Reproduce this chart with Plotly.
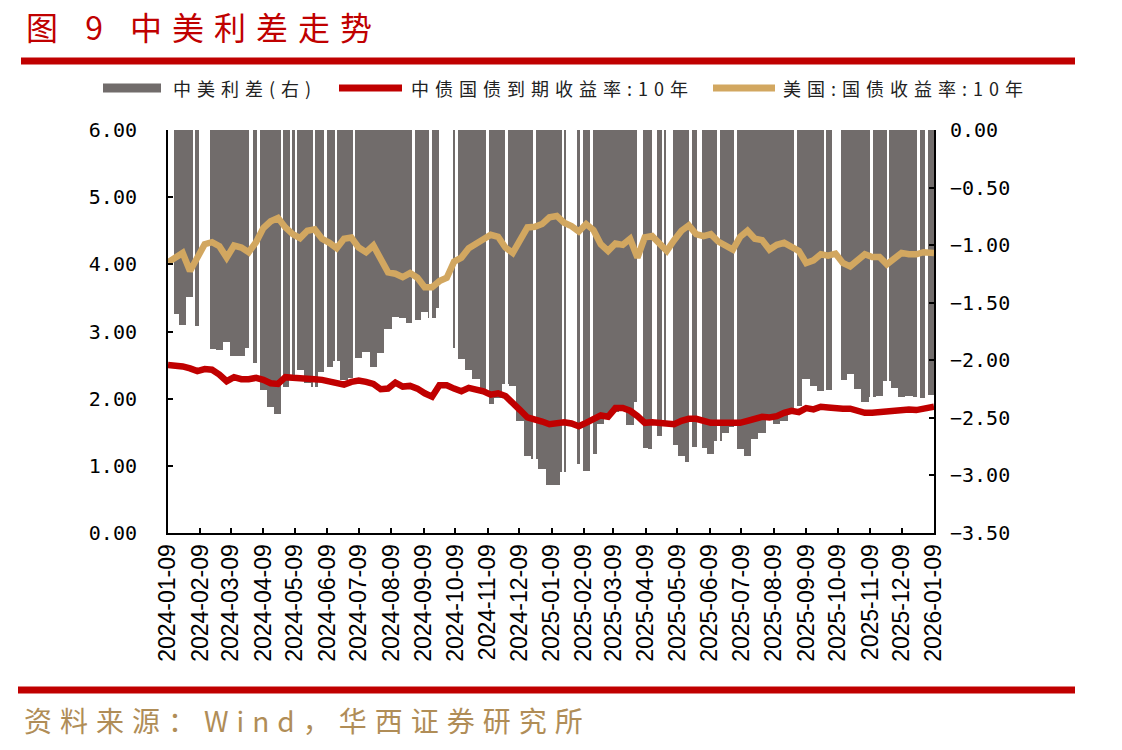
import pandas as pd
import plotly.graph_objects as go

# ---------------- data ----------------
week_dates = list(pd.date_range("2024-01-09", "2026-01-06", freq="7D")) + [pd.Timestamp("2026-01-09")]

cn_10y = [2.50, 2.50, 2.48, 2.45, 2.41, 2.44, 2.43, 2.36, 2.26, 2.32,
          2.29, 2.29, 2.31, 2.28, 2.23, 2.22, 2.32, 2.31, 2.31, 2.30,
          2.29, 2.28, 2.26, 2.23, 2.21, 2.25, 2.27, 2.25, 2.22, 2.14,
          2.15, 2.24, 2.18, 2.19, 2.15, 2.08, 2.03, 2.20, 2.20, 2.15,
          2.11, 2.16, 2.14, 2.11, 2.06, 2.08, 2.04, 1.95, 1.83, 1.72,
          1.70, 1.66, 1.62, 1.64, 1.65, 1.63, 1.59, 1.64, 1.70, 1.75,
          1.73, 1.86, 1.86, 1.82, 1.74, 1.64, 1.65, 1.64, 1.64, 1.62,
          1.67, 1.70, 1.70, 1.66, 1.64, 1.64, 1.64, 1.64, 1.64, 1.67,
          1.70, 1.73, 1.72, 1.74, 1.79, 1.82, 1.80, 1.86, 1.84, 1.88,
          1.87, 1.85, 1.85, 1.85, 1.81, 1.79, 1.79, 1.80, 1.82, 1.84,
          1.85, 1.84, 1.83, 1.85, 1.86, 1.88]

us_10y = [4.03, 4.10, 4.17, 3.90, 4.11, 4.30, 4.33, 4.27, 4.10, 4.28,
          4.25, 4.18, 4.33, 4.54, 4.64, 4.69, 4.55, 4.45, 4.39, 4.50,
          4.52, 4.38, 4.32, 4.24, 4.38, 4.40, 4.25, 4.18, 4.28, 4.08,
          3.88, 3.86, 3.81, 3.87, 3.80, 3.66, 3.66, 3.75, 3.80, 4.04,
          4.10, 4.24, 4.30, 4.37, 4.44, 4.41, 4.25, 4.17, 4.36, 4.55,
          4.56, 4.60, 4.70, 4.72, 4.62, 4.57, 4.49, 4.60, 4.51, 4.30,
          4.20, 4.31, 4.29, 4.38, 4.10, 4.40, 4.42, 4.30, 4.20, 4.36,
          4.50, 4.58, 4.45, 4.42, 4.45, 4.34, 4.27, 4.22, 4.41, 4.50,
          4.38, 4.36, 4.22, 4.29, 4.32, 4.26, 4.20, 4.02, 4.06, 4.15,
          4.13, 4.16, 4.02, 3.97, 4.06, 4.15, 4.11, 4.11, 4.00, 4.08,
          4.17, 4.15, 4.15, 4.18, 4.16, 4.17]

# days with no spread value (blank columns in the bar series)
gap_start = ["2024-01-08", "2024-02-02", "2024-02-08", "2024-03-26", "2024-04-03",
             "2024-04-26", "2024-05-04", "2024-05-09", "2024-05-26", "2024-06-06",
             "2024-06-16", "2024-07-04", "2024-08-29", "2024-09-14", "2024-09-24",
             "2024-10-09", "2024-11-07", "2024-11-26", "2024-12-22", "2025-01-19",
             "2025-01-23", "2025-02-05", "2025-02-15", "2025-04-01", "2025-04-15",
             "2025-04-24", "2025-04-28", "2025-05-20", "2025-05-28", "2025-06-16",
             "2025-07-02", "2025-08-28", "2025-09-26", "2025-10-04", "2025-11-09",
             "2025-11-25", "2025-12-24", "2025-12-31"]
gap_end = ["2024-01-14", "2024-02-03", "2024-02-17", "2024-03-29", "2024-04-05",
           "2024-04-27", "2024-05-05", "2024-05-10", "2024-05-27", "2024-06-08",
           "2024-06-17", "2024-07-04", "2024-08-31", "2024-09-16", "2024-10-06",
           "2024-10-11", "2024-11-09", "2024-11-27", "2024-12-24", "2025-01-19",
           "2025-02-01", "2025-02-07", "2025-02-17", "2025-04-05", "2025-04-19",
           "2025-04-25", "2025-05-04", "2025-05-22", "2025-06-01", "2025-06-18",
           "2025-07-04", "2025-08-30", "2025-09-27", "2025-10-11", "2025-11-11",
           "2025-11-26", "2025-12-26", "2026-01-02"]

month_ticks = list(pd.date_range("2024-01-09", periods=25, freq=pd.DateOffset(months=1)))

series_names = ["中美利差(右)", "中债国债到期收益率:10年", "美国:国债收益率:10年"]
title_text = "图 9 中美利差走势"
source_text = "资料来源：Wind，华西证券研究所"

# ---------------- styling ----------------
RED = "#c00000"
TAN = "#d2a760"
GRAY = "#716c6b"
SRC = "#b08d57"
CJK = "Noto Sans CJK SC"
DAY_MS = 86400000

W, H = 1122, 750
L, R, T, B = 168, 934, 130, 533   # plot area in pixels


def px_x(px):
    return (px - L) / (R - L)


def px_y(py):
    return (B - py) / (B - T)


spread = [round(c - u, 2) for c, u in zip(cn_10y, us_10y)]

gs = pd.to_datetime(gap_start)
ge = pd.to_datetime(gap_end) + pd.Timedelta(days=1)
gap_mid = list(gs + (ge - gs) / 2)
gap_w = [(e - s).total_seconds() * 1000 for s, e in zip(gs, ge)]

fig = go.Figure()
fig.add_bar(x=week_dates, y=spread, width=7 * DAY_MS, yaxis="y",
            marker=dict(color=GRAY, line=dict(width=0)), name=series_names[0])
fig.add_bar(x=gap_mid, y=[-3.5] * len(gap_mid), width=gap_w, yaxis="y",
            marker=dict(color="white", line=dict(width=0)), hoverinfo="skip", name="gap")
fig.add_scatter(x=week_dates, y=us_10y, mode="lines", yaxis="y2",
                line=dict(color=TAN, width=6.5), name=series_names[2])
fig.add_scatter(x=week_dates, y=cn_10y, mode="lines", yaxis="y2",
                line=dict(color=RED, width=6.5), name=series_names[1])

axis_common = dict(showline=True, linecolor="black", linewidth=2, ticks="inside",
                   ticklen=5, tickcolor="black", tickwidth=1.5, showgrid=False, zeroline=False)

fig.update_layout(
    width=W, height=H,
    margin=dict(l=L, r=W - R, t=T, b=H - B, autoexpand=False),
    paper_bgcolor="white", plot_bgcolor="white",
    barmode="overlay", bargap=0, showlegend=False,
    title=dict(text='<span style="letter-spacing:10px">' + title_text.replace(" ", "\u00a0") + "</span>",
               x=26 / W, xref="container", xanchor="left",
               y=1 - 29 / H, yref="container", yanchor="middle",
               font=dict(family=CJK, size=32, color=RED)),
    xaxis=dict(type="date", range=["2024-01-09", "2026-01-09"], tickvals=month_ticks,
               tickformat="%Y-%m-%d", tickangle=-90,
               tickfont=dict(family="Liberation Sans", size=23, color="black"), **axis_common),
    yaxis=dict(side="right", range=[-3.5, 0], dtick=0.5, tickformat=".2f", ticklabelstandoff=10,
               tickfont=dict(family="DejaVu Sans Mono", size=20, color="black"), **axis_common),
    yaxis2=dict(side="left", overlaying="y", range=[0, 6], dtick=1, tickformat=".2f", ticklabelstandoff=25,
                tickfont=dict(family="DejaVu Sans Mono", size=20, color="black"), **axis_common),
)

# header / footer rules
fig.add_shape(type="line", xref="paper", yref="paper", x0=px_x(21), x1=px_x(1075),
              y0=px_y(61), y1=px_y(61), line=dict(color=RED, width=7))
fig.add_shape(type="line", xref="paper", yref="paper", x0=px_x(18), x1=px_x(1075),
              y0=px_y(690), y1=px_y(690), line=dict(color=RED, width=7))

# legend (drawn manually to match the reference layout)
ly = 88
fig.add_shape(type="rect", xref="paper", yref="paper", x0=px_x(103), x1=px_x(161),
              y0=px_y(ly + 4.5), y1=px_y(ly - 4.5), fillcolor=GRAY, line=dict(width=0))
fig.add_shape(type="line", xref="paper", yref="paper", x0=px_x(339), x1=px_x(402),
              y0=px_y(ly), y1=px_y(ly), line=dict(color=RED, width=7))
fig.add_shape(type="line", xref="paper", yref="paper", x0=px_x(713), x1=px_x(775),
              y0=px_y(ly), y1=px_y(ly), line=dict(color=TAN, width=7))
for txt, px in zip(series_names, [171, 409, 781]):
    fig.add_annotation(text='<span style="letter-spacing:6px">' + txt + "</span>",
                       xref="paper", yref="paper", x=px_x(px), y=px_y(ly),
                       xanchor="left", yanchor="middle", showarrow=False,
                       font=dict(family=CJK, size=18, color="#222222"))

fig.add_annotation(text='<span style="letter-spacing:8px">' + source_text + "</span>",
                   xref="paper", yref="paper", x=px_x(22), y=px_y(720),
                   xanchor="left", yanchor="middle", showarrow=False,
                   font=dict(family=CJK, size=28, color=SRC))

fig.write_html("out.html")
